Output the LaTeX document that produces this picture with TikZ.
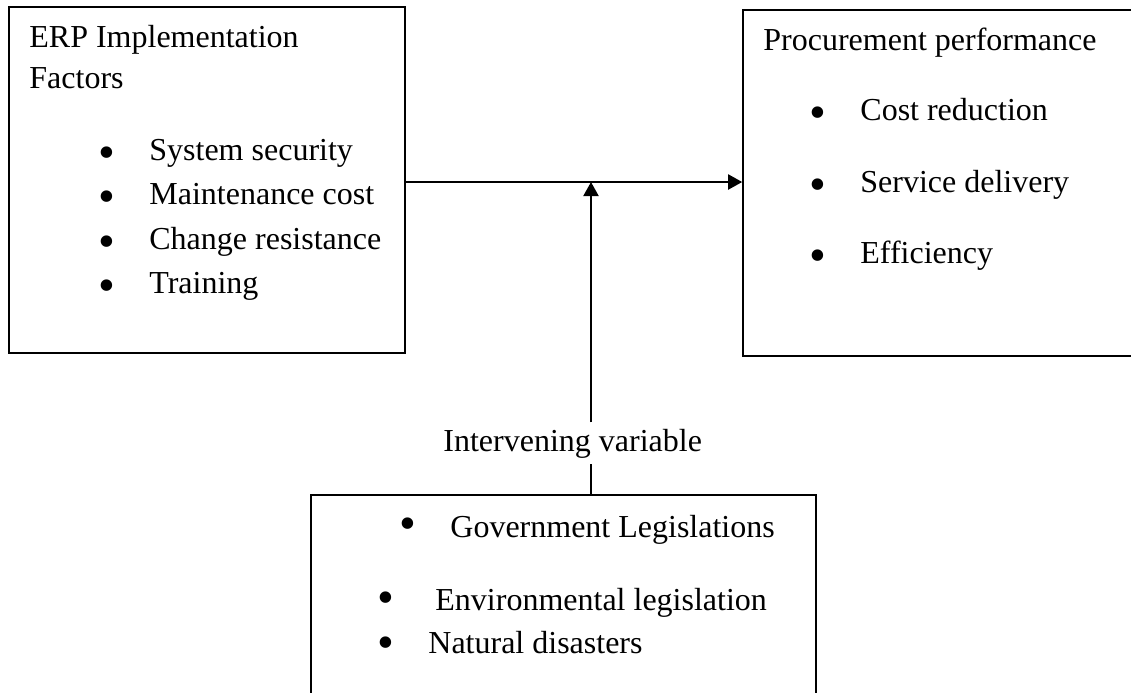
\documentclass[tikz,border=0pt]{standalone}
\usepackage{fontspec}
\setmainfont{Liberation Serif}
\usetikzlibrary{positioning, calc, arrows.meta, fit}

\tikzset{
  box/.style={draw, line width=0.8pt, inner sep=0pt},
  txt/.style={anchor=base west, inner sep=0pt, font=\fontsize{16}{19}\selectfont},
  dot/.style={anchor=center, inner sep=0pt, font=\fontsize{24}{28}\selectfont},
  link/.style={line width=1pt, -{Triangle[length=7pt,width=7.5pt]}}
}

\begin{document}
\begin{tikzpicture}[x=0.5pt, y=-0.5pt]
    \useasboundingbox (0,0) rectangle (1131,692);
    \clip (0,0) rectangle (1131,692);

    % ERP implementation factors
    \node[box, fit={(9,7) (405,353)}] (erp) {};
    \node[txt] (erptitleA) at (29,47) {ERP Implementation};
    \node[txt] (erptitleB) at (29,88) {Factors};
    \foreach \y/\t [count=\i] in {160/System security, 204/Maintenance cost,
                                  249/Change resistance, 293/Training} {
        \node[dot] (erpdot\i) at (107,\y-2) {\textbullet};
        \node[txt] (erpitem\i) at (149,\y) {\t};
    }

    % procurement performance
    \node[box, fit={(743,10) (1145,356)}] (proc) {};
    \node[txt] (proctitle) at (763,50) {Procurement performance};
    \foreach \y/\t [count=\i] in {120/Cost reduction, 192/Service delivery, 263/Efficiency} {
        \node[dot] (procdot\i) at (818,\y-2) {\textbullet};
        \node[txt] (procitem\i) at (860,\y) {\t};
    }

    % intervening variable
    \node[box, fit={(311,495) (816,705)}] (interv) {};
    \node[dot] (ivdot1) at (408,529) {\textbullet};
    \node[txt] (ivitem1) at (450,537) {Government Legislations};
    \node[dot] (ivdot2) at (386,603) {\textbullet};
    \node[txt] (ivitem2) at (435,610) {Environmental legislation};
    \node[dot] (ivdot3) at (386,648) {\textbullet};
    \node[txt] (ivitem3) at (428,653) {Natural disasters};
    \node[txt, inner sep=3pt] (ivlabel) at (437,451) {Intervening variable};

    % arrows
    \coordinate (join) at (591,182);
    \draw[link] (erp.east |- join) -- (proc.west |- join);
    \draw[link] (ivlabel.north -| join) -- (join);
    \draw[line width=1pt] (ivlabel.south -| join) -- (interv.north -| join);

\end{tikzpicture}
\end{document}
